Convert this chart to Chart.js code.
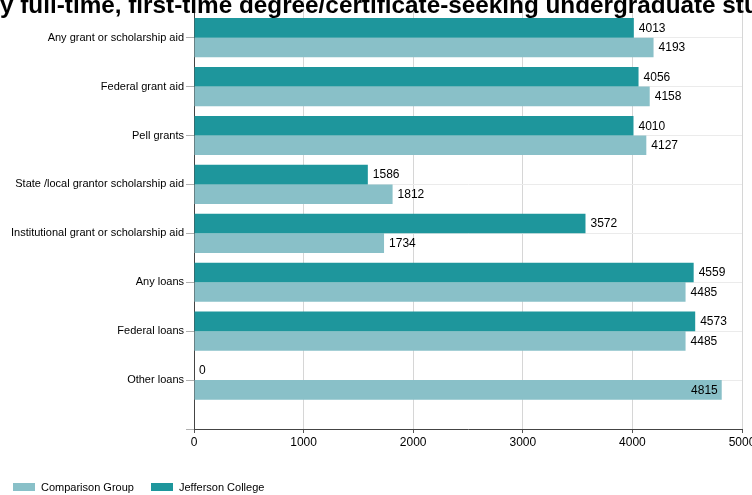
<!DOCTYPE html>
<html>
<head>
<meta charset="utf-8">
<script src="https://cdn.jsdelivr.net/npm/chart.js@4"></script>
<style>
  html, body { margin: 0; padding: 0; background: #fff; }
  #wrap { width: 752px; height: 495px; position: relative; }
</style>
</head>
<body>
<div id="wrap"><canvas id="aidChart"></canvas></div>
<script>
const titleText = 'Average amount of aid received by full-time, first-time degree/certificate-seeking undergraduate students';
const titleHidden = 'Average amount of aid received b';

const categories = [
    'Any grant or scholarship aid',
    'Federal grant aid',
    'Pell grants',
    'State /local grantor scholarship aid',
    'Institutional grant or scholarship aid',
    'Any loans',
    'Federal loans',
    'Other loans'
];
const jeffersonValues = [4013, 4056, 4010, 1586, 3572, 4559, 4573, 0];
const comparisonValues = [4193, 4158, 4127, 1812, 1734, 4485, 4485, 4815];
const xTicks = [0, 1000, 2000, 3000, 4000, 5000];

const COLORS = {
    jefferson: '#1e969c',
    comparison: '#89c0c8'
};
const FONT = '"Liberation Sans", Arial, sans-serif';

const toPoints = values => values.map((v, i) => ({ x: v, y: i }));

// title sits partly outside the canvas, so it is drawn by hand
const titlePlugin = {
    id: 'cutTitle',
    afterDraw(chart) {
        const ctx = chart.ctx;
        ctx.save();
        ctx.font = 'bold 24.3px ' + FONT;
        ctx.fillStyle = '#000';
        ctx.textBaseline = 'alphabetic';
        ctx.textAlign = 'left';
        const x0 = -ctx.measureText(titleHidden).width;
        ctx.fillText(titleText, x0, 12.5);
        ctx.restore();
    }
};

const valueLabels = {
    id: 'valueLabels',
    afterDatasetsDraw(chart) {
        const ctx = chart.ctx;
        const right = chart.chartArea.right;
        ctx.save();
        ctx.font = '12px ' + FONT;
        ctx.fillStyle = '#000';
        ctx.textBaseline = 'middle';
        chart.data.datasets.forEach((ds, di) => {
            const meta = chart.getDatasetMeta(di);
            meta.data.forEach((bar, i) => {
                const text = String(ds.data[i].x);
                const w = ctx.measureText(text).width;
                if (bar.x + 5 + w > right) {
                    ctx.textAlign = 'right';
                    ctx.fillText(text, bar.x - 4, bar.y + 0.5);
                } else {
                    ctx.textAlign = 'left';
                    ctx.fillText(text, bar.x + 5, bar.y + 0.5);
                }
            });
        });
        ctx.restore();
    }
};

// legend along the bottom, comparison group first
const bottomLegend = {
    id: 'bottomLegend',
    afterDraw(chart) {
        const ctx = chart.ctx;
        const items = chart.data.datasets.slice().reverse();
        const xs = [13, 151];
        ctx.save();
        ctx.font = '11px ' + FONT;
        ctx.textBaseline = 'middle';
        ctx.textAlign = 'left';
        items.forEach((ds, k) => {
            ctx.fillStyle = ds.backgroundColor;
            ctx.fillRect(xs[k], 483, 22, 8);
            ctx.fillStyle = '#000';
            ctx.fillText(ds.label, xs[k] + 28, 487.5);
        });
        ctx.restore();
    }
};

const ctx = document.getElementById('aidChart').getContext('2d');
new Chart(ctx, {
    type: 'bar',
    data: {
        datasets: [
            {
                label: 'Jefferson College',
                data: toPoints(jeffersonValues),
                backgroundColor: COLORS.jefferson,
                borderWidth: 0,
                categoryPercentage: 0.8,
                barPercentage: 1.0
            },
            {
                label: 'Comparison Group',
                data: toPoints(comparisonValues),
                backgroundColor: COLORS.comparison,
                borderWidth: 0,
                categoryPercentage: 0.8,
                barPercentage: 1.0
            }
        ]
    },
    options: {
        indexAxis: 'y',
        responsive: true,
        maintainAspectRatio: false,
        animation: false,
        layout: { padding: { top: 0, right: 10, bottom: 40, left: 0 } },
        scales: {
            x: {
                type: 'linear',
                position: 'bottom',
                min: 0,
                max: 5000,
                afterBuildTicks: s => { s.ticks = xTicks.map(v => ({ value: v })); },
                afterFit: s => { s.height = 26; s.paddingLeft = 0; s.paddingRight = 0; },
                grid: {
                    color: '#d6d6d6',
                    tickColor: '#555',
                    tickLength: 4,
                    drawTicks: true
                },
                border: { color: '#444', width: 1 },
                ticks: {
                    color: '#000',
                    font: { family: FONT, size: 12 },
                    padding: 2,
                    maxRotation: 0,
                    callback: v => String(v)
                }
            },
            y: {
                type: 'linear',
                reverse: true,
                offset: false,
                min: -0.77,
                max: 8,
                afterBuildTicks: s => {
                    s.ticks = categories.map((_, i) => ({ value: i })).concat([{ value: 8 }]);
                },
                afterFit: s => { s.width = 194; s.paddingTop = 0; s.paddingBottom = 0; },
                grid: {
                    offset: false,
                    color: '#ebebeb',
                    tickColor: '#b0b0b0',
                    tickLength: 8
                },
                border: { color: '#444', width: 1 },
                ticks: {
                    color: '#000',
                    font: { family: FONT, size: 11 },
                    padding: 2,
                    autoSkip: false,
                    callback: v => categories[v] || ''
                }
            }
        },
        plugins: {
            legend: { display: false },
            tooltip: { enabled: false }
        }
    },
    plugins: [valueLabels, titlePlugin, bottomLegend]
});
</script>
</body>
</html>
